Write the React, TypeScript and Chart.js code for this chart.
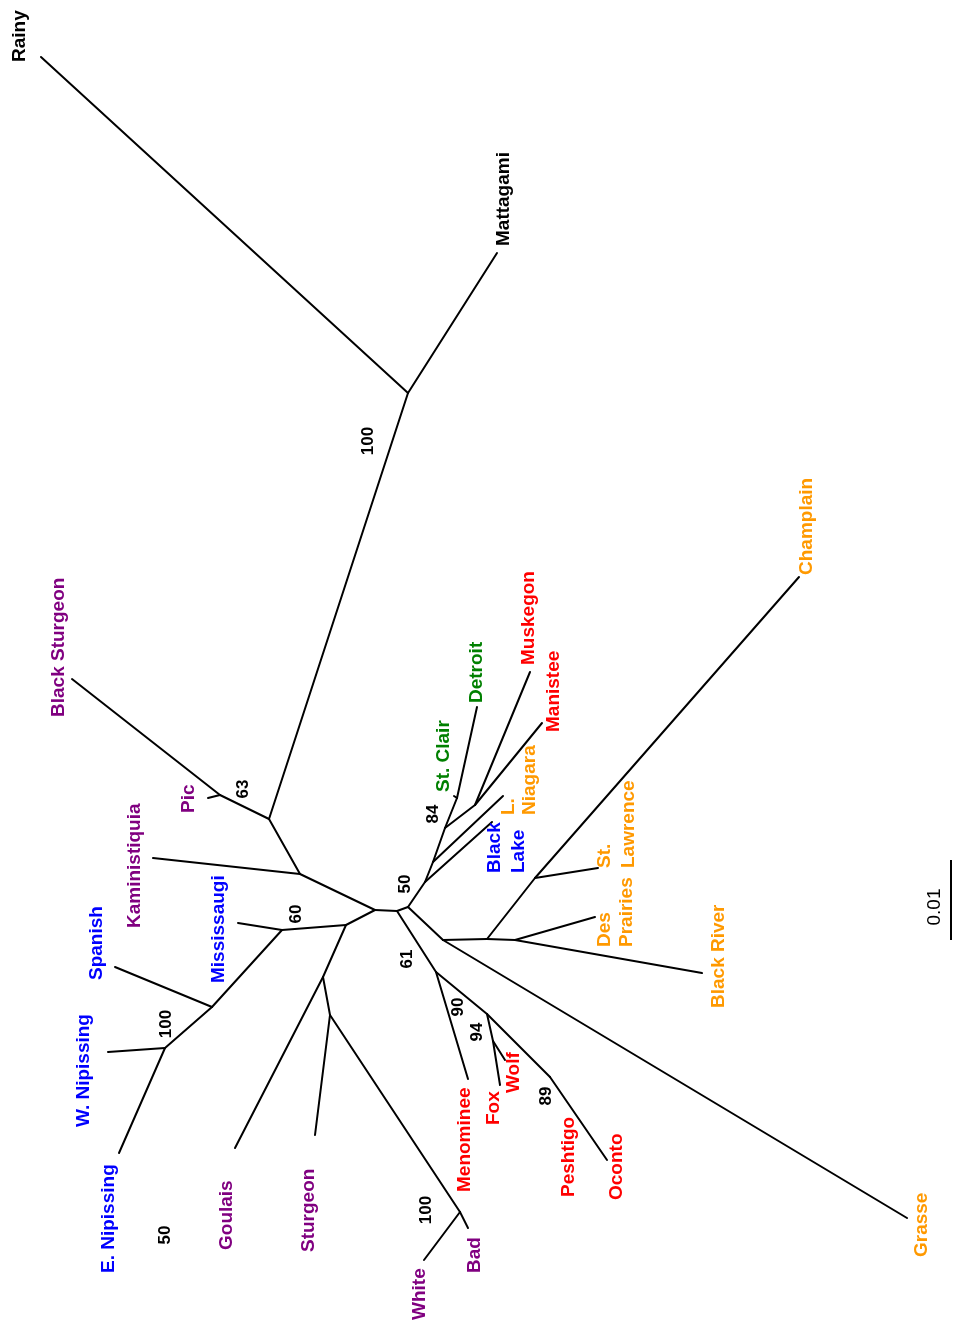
import { useEffect, useRef } from "react";
import { Chart, registerables } from "chart.js";
Chart.register(...registerables);

// Tree nodes (leaves and internal nodes)
const NODE_IDS = [
  "rainy", "mattagami", "blackSturgeon", "pic", "kaminist", "mississaugi", "spanish",
  "wNipissing", "eNipissing", "goulais", "sturgeon", "white", "bad", "menominee", "fox",
  "wolf", "oconto", "detroit", "stClair", "muskegon", "manistee", "blackLake", "lNiagara",
  "stLawrence", "desPrairies", "blackRiver", "champlain", "grasse",
  "G", "F", "P", "A", "B", "C", "D", "E", "M", "S", "W", "Q1", "Q2", "WB", "H", "I", "FW",
  "PO", "J", "K", "L", "N", "P1", "P2", "P3", "P4", "P5",
];
const NODE_X = [
  41, 497, 72, 208, 153, 238, 115,
  108, 119, 235, 315, 424, 468, 468, 500,
  505, 607, 477, 454, 530, 542, 492, 503,
  598, 595, 702, 799, 907,
  408, 269, 220, 300, 375, 397, 408, 346, 282, 212, 165, 323, 330, 460, 436, 487, 493,
  550, 443, 487, 535, 515, 425, 433, 445, 457, 475,
];
const NODE_Y = [
  57, 253, 679, 798, 858, 923, 967,
  1052, 1153, 1148, 1135, 1260, 1228, 1079, 1085,
  1060, 1160, 707, 796, 672, 723, 822, 796,
  868, 917, 973, 577, 1218,
  393, 819, 795, 874, 910, 911, 907, 925, 930, 1007, 1048, 977, 1015, 1212, 972, 1014, 1041,
  1077, 940, 939, 878, 940, 882, 862, 828, 798, 805,
];

// Branches
const EDGE_FROM = [
  "G", "G", "F", "F", "P", "P", "A", "A", "A", "B", "B", "C", "C", "D", "D",
  "E", "E", "M", "M", "S", "S", "W", "W", "Q1", "Q1", "Q2", "Q2", "WB", "WB",
  "H", "H", "I", "I", "FW", "FW", "PO",
  "J", "J", "K", "K", "L", "L", "N", "N",
  "P1", "P1", "P2", "P2", "P3", "P3", "P4", "P4", "P5", "P5",
];
const EDGE_TO = [
  "rainy", "mattagami", "G", "P", "blackSturgeon", "pic", "F", "kaminist", "B", "E", "C", "D", "H", "P1", "J",
  "M", "Q1", "mississaugi", "S", "spanish", "W", "wNipissing", "eNipissing", "goulais", "Q2", "sturgeon", "WB", "white", "bad",
  "menominee", "I", "FW", "PO", "fox", "wolf", "oconto",
  "grasse", "K", "L", "N", "stLawrence", "champlain", "desPrairies", "blackRiver",
  "blackLake", "P2", "lNiagara", "P3", "P4", "P5", "detroit", "stClair", "muskegon", "manistee",
];

// Scale bar (0.01)
const SCALE_BAR_X = [951, 951];
const SCALE_BAR_Y = [860, 940];
const SCALE_TEXT = "0.01";
const SCALE_TEXT_X = 935;
const SCALE_TEXT_Y = 907;

// Leaf labels (anchor = start of rotated text)
const LABEL_TEXT = [
  "Rainy", "Mattagami", "Black Sturgeon", "Pic", "Kaministiquia", "Mississaugi", "Spanish",
  "W. Nipissing", "E. Nipissing", "Goulais", "Sturgeon", "White", "Bad", "Menominee",
  "Fox", "Wolf", "Peshtigo", "Oconto", "St. Clair", "Detroit", "Muskegon", "Manistee",
  "Black", "Lake", "L.", "Niagara", "St.", "Lawrence", "Des", "Prairies", "Black River",
  "Champlain", "Grasse",
];
const LABEL_X = [
  20, 504, 59, 189, 135, 219, 97,
  84, 109, 227, 309, 420, 475, 465,
  494, 514, 569, 617, 444, 477, 529, 554,
  495, 519, 509, 530, 605, 629, 605, 627, 719,
  807, 922,
];
const LABEL_Y = [
  62, 246, 717, 813, 928, 983, 980,
  1127, 1273, 1250, 1252, 1320, 1273, 1192,
  1125, 1093, 1197, 1200, 792, 703, 665, 732,
  873, 873, 815, 815, 868, 868, 947, 947, 1008,
  575, 1257,
];
const LABEL_GROUP = [
  "none", "none", "superior", "superior", "superior", "huron", "huron",
  "huron", "huron", "superior", "superior", "superior", "superior", "michigan",
  "michigan", "michigan", "michigan", "michigan", "erie", "erie", "michigan", "michigan",
  "huron", "huron", "ontario", "ontario", "ontario", "ontario", "ontario", "ontario", "ontario",
  "ontario", "ontario",
];

// Bootstrap support values
const BOOT_TEXT = ["100", "63", "60", "100", "50", "50", "84", "61", "90", "94", "89", "100"];
const BOOT_X = [368, 243, 296, 166, 165, 405, 433, 407, 458, 477, 546, 426];
const BOOT_Y = [441, 789, 914, 1024, 1235, 884, 814, 959, 1007, 1032, 1096, 1210];

const GROUP_COLORS: Record<string, string> = {
  none: "#000000",
  superior: "#800080",
  huron: "#0000ff",
  erie: "#008000",
  michigan: "#ff0000",
  ontario: "#ff9900",
};

const FONT = '"Liberation Sans", Arial, sans-serif';

export default function App() {
  const ref = useRef<HTMLCanvasElement>(null);
  useEffect(() => {
    if (!ref.current) return;
    const idx = (id: string) => NODE_IDS.indexOf(id);
    const datasets: any[] = EDGE_FROM.map((f, i) => {
      const a = idx(f);
      const b = idx(EDGE_TO[i]);
      return {
        data: [
          { x: NODE_X[a], y: NODE_Y[a] },
          { x: NODE_X[b], y: NODE_Y[b] },
        ],
        showLine: true,
        borderColor: "#000",
        borderWidth: 2,
        borderCapStyle: "round",
        pointRadius: 0,
        pointHoverRadius: 0,
        fill: false,
      };
    });
    datasets.push({
      data: SCALE_BAR_X.map((x, i) => ({ x, y: SCALE_BAR_Y[i] })),
      showLine: true,
      borderColor: "#000",
      borderWidth: 2,
      pointRadius: 0,
      fill: false,
    });

    const labelPlugin = {
      id: "treeLabels",
      afterDatasetsDraw(chart: any) {
        const ctx = chart.ctx as CanvasRenderingContext2D;
        const xs = chart.scales.x;
        const ys = chart.scales.y;
        const draw = (text: string, x: number, y: number, font: string, color: string, align: CanvasTextAlign) => {
          ctx.save();
          ctx.translate(xs.getPixelForValue(x), ys.getPixelForValue(y));
          ctx.rotate(-Math.PI / 2);
          ctx.font = font;
          ctx.fillStyle = color;
          ctx.textAlign = align;
          ctx.textBaseline = "middle";
          ctx.fillText(text, 0, 0);
          ctx.restore();
        };
        LABEL_TEXT.forEach((t, i) =>
          draw(t, LABEL_X[i], LABEL_Y[i], `bold 19px ${FONT}`, GROUP_COLORS[LABEL_GROUP[i]], "left")
        );
        BOOT_TEXT.forEach((t, i) => draw(t, BOOT_X[i], BOOT_Y[i], `bold 17px ${FONT}`, "#000", "center"));
        draw(SCALE_TEXT, SCALE_TEXT_X, SCALE_TEXT_Y, `19px ${FONT}`, "#000", "center");
      },
    };

    const chart = new Chart(ref.current, {
      type: "scatter",
      data: { datasets },
      options: {
        animation: false,
        responsive: false,
        devicePixelRatio: 1,
        events: [],
        layout: { padding: 0 },
        plugins: { legend: { display: false }, tooltip: { enabled: false } },
        scales: {
          x: { type: "linear", min: 0, max: 955, display: false },
          y: { type: "linear", min: 0, max: 1325, reverse: true, display: false },
        },
      },
      plugins: [labelPlugin],
    });
    return () => chart.destroy();
  }, []);
  return (
    <div style={{ position: "absolute", left: 0, top: 0, width: 955, height: 1325, background: "#fff" }}>
      <canvas ref={ref} width={955} height={1325} style={{ display: "block" }} />
    </div>
  );
}
